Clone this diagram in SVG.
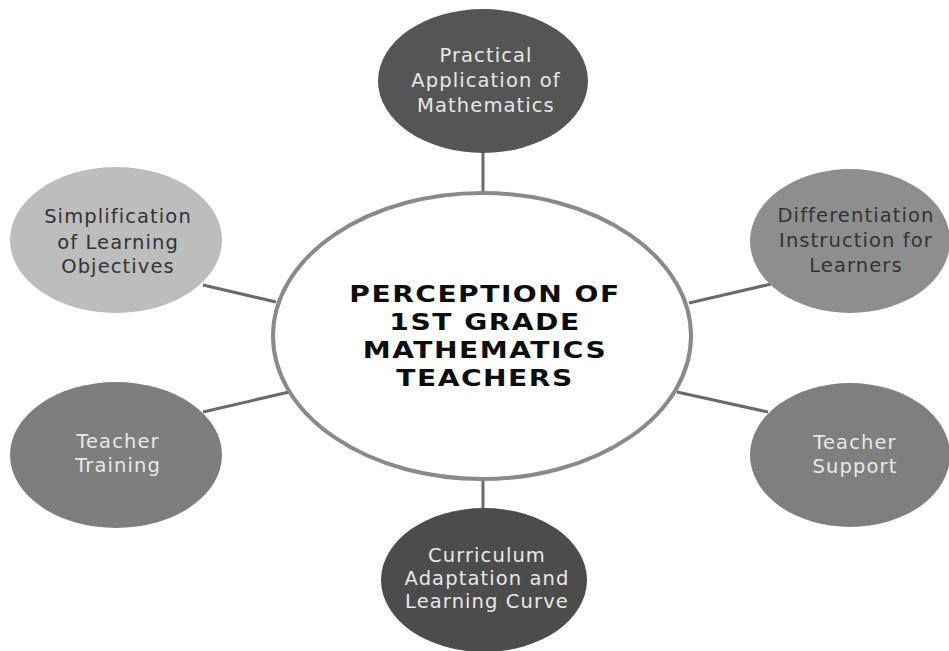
<svg xmlns="http://www.w3.org/2000/svg" width="949" height="651" viewBox="0 0 949 651">
  <style>
    .link { stroke: #6a6a6a; stroke-width: 3; fill: none; }
    .label { font-family: "DejaVu Sans", "Liberation Sans", sans-serif; font-size: 19.5px; letter-spacing: 1.1px; text-anchor: middle; }
    .light { fill: #e8e8e8; }
    .dark { fill: #333333; }
    .title { font-family: "DejaVu Sans", "Liberation Sans", sans-serif; font-weight: bold; font-size: 22.5px; letter-spacing: 1.2px; text-anchor: middle; fill: #0d0d0d; }
  </style>
  <rect width="949" height="651" fill="#ffffff"/>

  <!-- spokes from the hub to each topic -->
  <g id="connectors">
    <line class="link" x1="483" y1="150" x2="483" y2="194"/>
    <line class="link" x1="203" y1="285" x2="276" y2="302"/>
    <line class="link" x1="689" y1="303" x2="771" y2="284"/>
    <line class="link" x1="203" y1="412" x2="289" y2="392"/>
    <line class="link" x1="677" y1="392" x2="768" y2="412"/>
    <line class="link" x1="483" y1="478" x2="483" y2="510"/>
  </g>

  <!-- hub: title set in a horizontally widened bold face -->
  <g id="hub">
    <ellipse cx="482" cy="336" rx="209" ry="143" fill="#ffffff" stroke="#8a8a8a" stroke-width="4"/>
    <g transform="translate(485,0) scale(1.25,1)">
      <text class="title" x="0" y="302">PERCEPTION OF</text>
      <text class="title" x="0" y="330">1ST GRADE</text>
      <text class="title" x="0" y="358">MATHEMATICS</text>
      <text class="title" x="0" y="386">TEACHERS</text>
    </g>
  </g>

  <g id="practical-application">
    <ellipse cx="483" cy="81" rx="105" ry="72" fill="#555555"/>
    <text class="label light" x="486" y="62">Practical</text>
    <text class="label light" x="486" y="87">Application of</text>
    <text class="label light" x="486" y="112">Mathematics</text>
  </g>

  <g id="simplification">
    <ellipse cx="116" cy="240" rx="106" ry="73" fill="#bdbdbd"/>
    <text class="label dark" x="118" y="223">Simplification</text>
    <text class="label dark" x="118" y="249">of Learning</text>
    <text class="label dark" x="118" y="273">Objectives</text>
  </g>

  <g id="differentiation">
    <ellipse cx="850" cy="241" rx="100" ry="72" fill="#8e8e8e"/>
    <text class="label dark" x="856" y="222">Differentiation</text>
    <text class="label dark" x="856" y="247">Instruction for</text>
    <text class="label dark" x="856" y="272">Learners</text>
  </g>

  <g id="teacher-training">
    <ellipse cx="116" cy="455" rx="106" ry="73" fill="#7e7e7e"/>
    <text class="label light" x="118" y="448">Teacher</text>
    <text class="label light" x="118" y="472">Training</text>
  </g>

  <g id="teacher-support">
    <ellipse cx="850" cy="455" rx="100" ry="72" fill="#7f7f7f"/>
    <text class="label light" x="855" y="449">Teacher</text>
    <text class="label light" x="855" y="473">Support</text>
  </g>

  <g id="curriculum-adaptation">
    <ellipse cx="484" cy="580" rx="103" ry="72" fill="#4c4c4c"/>
    <text class="label light" x="487" y="562">Curriculum</text>
    <text class="label light" x="487" y="585">Adaptation and</text>
    <text class="label light" x="487" y="608">Learning Curve</text>
  </g>
</svg>
